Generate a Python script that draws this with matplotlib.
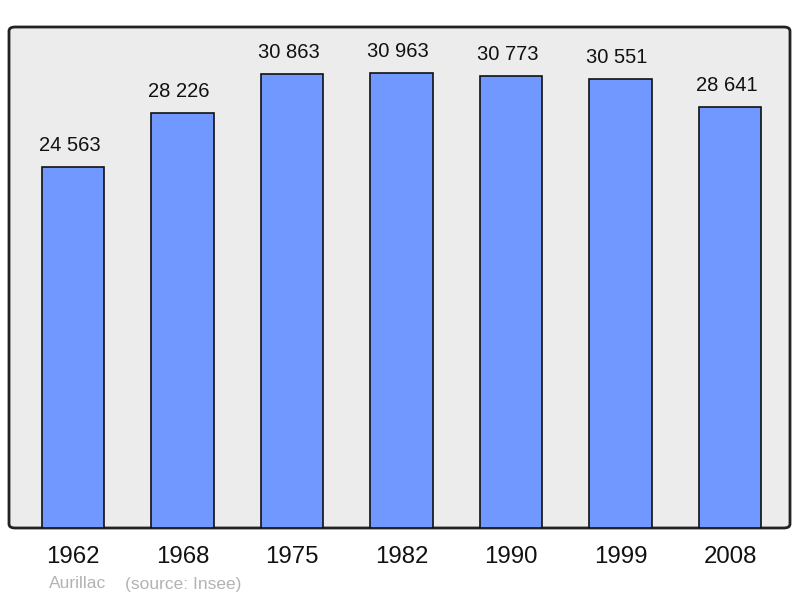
import matplotlib.pyplot as plt
from matplotlib.patches import FancyBboxPatch

years = ['1962', '1968', '1975', '1982', '1990', '1999', '2008']
population = [24563, 28226, 30863, 30963, 30773, 30551, 28641]
value_labels = ['24 563', '28 226', '30 863', '30 963', '30 773', '30 551', '28 641']

plt.rcParams['font.family'] = ['Liberation Sans', 'DejaVu Sans']

fig = plt.figure(figsize=(8, 5.98), dpi=100)
ax = fig.add_axes([9/800, 1 - 528/598, 781/800, 501/598])
ax.set_facecolor('none')

# rounded grey frame
frame = FancyBboxPatch((0, 0), 1, 1, boxstyle='round,pad=0,rounding_size=0.008',
                       transform=ax.transAxes, facecolor='#ececec',
                       edgecolor='#222222', linewidth=2, zorder=0, clip_on=False)
ax.add_patch(frame)
for s in ax.spines.values():
    s.set_visible(False)

x = list(range(len(years)))
bars = ax.bar(x, population, width=0.57, color='#7098ff', edgecolor='#111111',
              linewidth=1.2, zorder=2)

for b, lab in zip(bars, value_labels):
    ax.annotate(lab, (b.get_x() + b.get_width() / 2, b.get_height()),
                xytext=(-2.5, 15.5), textcoords='offset points',
                ha='center', va='center', fontsize=14.5, color='#111111')

ax.set_xlim(-0.584, 6.548)
ax.set_ylim(0, 34090)
ax.set_yticks([])
ax.set_xticks(x)
ax.set_xticklabels(years, fontsize=17.3, color='#111111')
ax.tick_params(axis='x', length=0, pad=13)

fig.text(49/800, 1 - 584/598, 'Aurillac', fontsize=12.5, color='#b3b3b3',
         va='center', ha='left')
fig.text(125/800, 1 - 584/598, '(source: Insee)', fontsize=12.5, color='#b3b3b3',
         va='center', ha='left')

fig.savefig('out.png', dpi=100)
